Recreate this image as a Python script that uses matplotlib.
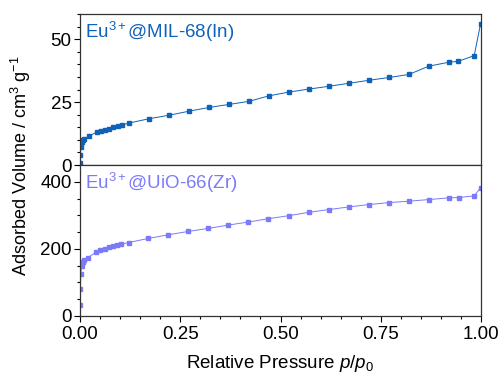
import matplotlib
matplotlib.use('Agg')
from matplotlib import pyplot as plt
from matplotlib.ticker import MultipleLocator, FormatStrFormatter

plt.rcParams['font.family'] = 'Liberation Sans'
plt.rcParams['mathtext.fontset'] = 'custom'
plt.rcParams['mathtext.rm'] = 'Liberation Sans'
plt.rcParams['mathtext.it'] = 'Liberation Sans:italic'

# Eu3+@MIL-68(In)
p_mil = [0.0005, 0.001, 0.002, 0.004, 0.007, 0.010, 0.022, 0.042, 0.053, 0.063,
         0.073, 0.083, 0.094, 0.104, 0.122, 0.172, 0.222, 0.272, 0.322, 0.372,
         0.421, 0.471, 0.521, 0.571, 0.621, 0.671, 0.721, 0.771, 0.820, 0.870,
         0.921, 0.943, 0.983, 0.999]
v_mil = [0.7, 4.0, 7.0, 9.0, 9.8, 10.3, 11.5, 13.1, 13.6, 14.0,
         14.4, 15.0, 15.5, 15.9, 16.7, 18.4, 19.8, 21.4, 22.9, 24.1,
         25.3, 27.5, 29.0, 30.2, 31.3, 32.5, 33.7, 34.8, 36.0, 39.3,
         40.9, 41.2, 43.5, 56.2]

# Eu3+@UiO-66(Zr)
p_uio = [0.0005, 0.001, 0.002, 0.004, 0.007, 0.010, 0.0196, 0.040, 0.050, 0.062,
         0.072, 0.082, 0.093, 0.103, 0.121, 0.170, 0.220, 0.270, 0.320, 0.370,
         0.420, 0.470, 0.521, 0.571, 0.620, 0.670, 0.720, 0.771, 0.820, 0.870,
         0.920, 0.944, 0.983, 0.999]
v_uio = [34, 80, 125, 149, 160, 167, 174, 190, 197, 201,
         205, 208, 211, 214, 219, 231, 242, 252, 261, 271,
         280, 290, 299, 309, 317, 325, 332, 338, 342, 347,
         352, 353, 358, 382]

c_mil = '#0f62b8'
c_uio = '#7b7bfa'
fs = 13.5

fig = plt.figure(figsize=(5.0, 3.76), dpi=100)
ax1 = fig.add_axes([0.16, 0.561, 0.802, 0.4016])
ax2 = fig.add_axes([0.16, 0.1596, 0.802, 0.4016])

ax1.plot(p_mil, v_mil, color=c_mil, lw=0.7, marker='s', ms=2.6, mec=c_mil, mfc=c_mil)
ax2.plot(p_uio, v_uio, color=c_uio, lw=0.7, marker='s', ms=2.6, mec=c_uio, mfc=c_uio)

ax1.set_ylim(0, 60)
ax2.set_ylim(0, 450)
for ax in (ax1, ax2):
    ax.set_xlim(0, 1.0)
    ax.tick_params(which='both', direction='out', labelsize=fs, right=False, top=False, pad=2)
    ax.tick_params(which='major', length=4, width=0.8)
    ax.tick_params(which='minor', length=2, width=0.8)
    ax.xaxis.set_major_locator(MultipleLocator(0.25))
    ax.xaxis.set_minor_locator(MultipleLocator(0.05))
    for s in ax.spines.values():
        s.set_linewidth(0.9)
        s.set_color('#333333')

ax1.yaxis.set_major_locator(MultipleLocator(25))
ax1.yaxis.set_minor_locator(MultipleLocator(5))
ax1.tick_params(axis='x', which='both', bottom=False, labelbottom=False)
ax2.yaxis.set_major_locator(MultipleLocator(200))
ax2.yaxis.set_minor_locator(MultipleLocator(50))
ax2.xaxis.set_major_formatter(FormatStrFormatter('%.2f'))
ax2.tick_params(axis='x', which='both', pad=3.5)

ax1.text(0.012, 0.96, r'Eu$^{3+}$@MIL-68(In)', transform=ax1.transAxes,
         color=c_mil, fontsize=fs, va='top', ha='left')
ax2.text(0.012, 0.96, r'Eu$^{3+}$@UiO-66(Zr)', transform=ax2.transAxes,
         color=c_uio, fontsize=fs, va='top', ha='left')

ax2.set_xlabel(r'Relative Pressure $p/p_0$', fontsize=fs, labelpad=7)
fig.text(0.042, 0.56, r'Adsorbed Volume / cm$^3$ g$^{-1}$', rotation=90,
         fontsize=13, ha='center', va='center')

plt.savefig('out.png', dpi=100)
